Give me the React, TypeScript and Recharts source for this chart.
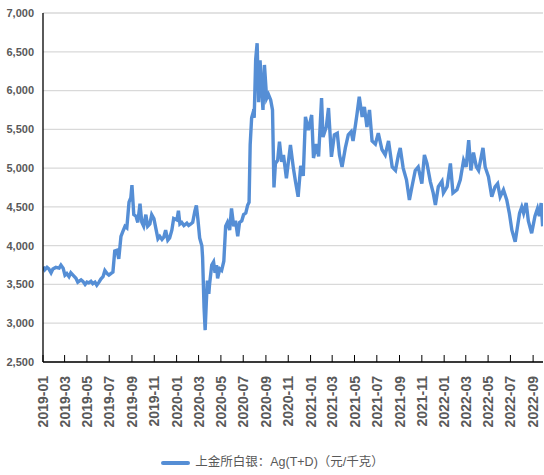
import React from 'react';
import { LineChart, Line, XAxis, YAxis, CartesianGrid, Legend } from 'recharts';

const dates = [
  '2019-01-02', '2019-01-06', '2019-01-12', '2019-01-17', '2019-01-23', '2019-01-28', '2019-02-05', '2019-02-14',
  '2019-02-19', '2019-02-25', '2019-03-02', '2019-03-07', '2019-03-13', '2019-03-18', '2019-03-24', '2019-04-01',
  '2019-04-06', '2019-04-15', '2019-04-20', '2019-04-26', '2019-05-01', '2019-05-06', '2019-05-12', '2019-05-17',
  '2019-05-23', '2019-05-28', '2019-06-03', '2019-06-08', '2019-06-14', '2019-06-19', '2019-06-25', '2019-06-30',
  '2019-07-05', '2019-07-11', '2019-07-16', '2019-07-22', '2019-07-27', '2019-08-02', '2019-08-07', '2019-08-13',
  '2019-08-18', '2019-08-24', '2019-08-29', '2019-09-01', '2019-09-06', '2019-09-12', '2019-09-17', '2019-09-23',
  '2019-09-28', '2019-10-03', '2019-10-09', '2019-10-14', '2019-10-20', '2019-10-25', '2019-10-31', '2019-11-05',
  '2019-11-11', '2019-11-16', '2019-11-22', '2019-11-27', '2019-12-02', '2019-12-08', '2019-12-13', '2019-12-19',
  '2019-12-24', '2020-01-02', '2020-01-06', '2020-01-10', '2020-01-15', '2020-01-21', '2020-01-29', '2020-02-03',
  '2020-02-09', '2020-02-14', '2020-02-20', '2020-02-24', '2020-02-28', '2020-03-04', '2020-03-10', '2020-03-12',
  '2020-03-16', '2020-03-19', '2020-03-22', '2020-03-25', '2020-03-29', '2020-03-31', '2020-04-06', '2020-04-11',
  '2020-04-15', '2020-04-19', '2020-04-22', '2020-04-28', '2020-05-03', '2020-05-09', '2020-05-14', '2020-05-19',
  '2020-05-25', '2020-05-30', '2020-06-05', '2020-06-10', '2020-06-16', '2020-06-21', '2020-06-27', '2020-07-02',
  '2020-07-08', '2020-07-13', '2020-07-17', '2020-07-20', '2020-07-24', '2020-07-27', '2020-07-31', '2020-08-04',
  '2020-08-08', '2020-08-12', '2020-08-16', '2020-08-20', '2020-08-24', '2020-08-28', '2020-09-03', '2020-09-08',
  '2020-09-14', '2020-09-19', '2020-09-23', '2020-09-27', '2020-10-03', '2020-10-08', '2020-10-14', '2020-10-19',
  '2020-10-27', '2020-11-07', '2020-11-15', '2020-11-21', '2020-11-28', '2020-12-05', '2020-12-12', '2020-12-18',
  '2020-12-26', '2021-01-04', '2021-01-09', '2021-01-17', '2021-01-23', '2021-01-31', '2021-02-04', '2021-02-13',
  '2021-02-19', '2021-02-27', '2021-03-07', '2021-03-15', '2021-03-21', '2021-03-28', '2021-04-06', '2021-04-14',
  '2021-04-22', '2021-04-27', '2021-05-04', '2021-05-08', '2021-05-14', '2021-05-22', '2021-05-28', '2021-06-04',
  '2021-06-11', '2021-06-18', '2021-06-27', '2021-07-05', '2021-07-15', '2021-07-24', '2021-08-02', '2021-08-12',
  '2021-08-21', '2021-08-29', '2021-09-03', '2021-09-11', '2021-09-20', '2021-09-28', '2021-10-05', '2021-10-14',
  '2021-10-22', '2021-11-01', '2021-11-08', '2021-11-15', '2021-11-24', '2021-12-02', '2021-12-08', '2021-12-16',
  '2021-12-26', '2021-12-30', '2022-01-09', '2022-01-18', '2022-01-25', '2022-02-05', '2022-02-14', '2022-02-23',
  '2022-03-02', '2022-03-09', '2022-03-15', '2022-03-22', '2022-03-30', '2022-04-05', '2022-04-17', '2022-04-23',
  '2022-05-02', '2022-05-11', '2022-05-20', '2022-05-27', '2022-06-03', '2022-06-12', '2022-06-21', '2022-06-28',
  '2022-07-05', '2022-07-14', '2022-07-26', '2022-08-01', '2022-08-06', '2022-08-13', '2022-08-19', '2022-08-28',
  '2022-09-06', '2022-09-13', '2022-09-18', '2022-09-23', '2022-09-27',
];

// 上金所白银 Ag(T+D)，元/千克
const prices = [
  3730, 3690, 3720, 3700, 3650, 3700, 3720, 3710,
  3750, 3710, 3620, 3640, 3600, 3650, 3620, 3580,
  3530, 3560, 3540, 3500, 3530, 3520, 3540, 3510,
  3530, 3490, 3530, 3570, 3600, 3680, 3640, 3620,
  3640, 3660, 3930, 3940, 3830, 4120, 4180, 4250,
  4230, 4560, 4620, 4780, 4400, 4380, 4300, 4540,
  4300, 4250, 4400, 4250, 4280, 4400, 4350, 4230,
  4090, 4120, 4080, 4110, 4200, 4070, 4100, 4200,
  4350, 4330, 4450, 4280, 4300, 4260, 4290, 4260,
  4280, 4300, 4450, 4520, 4350, 4100, 4000, 3850,
  3200, 2910, 3250, 3550, 3380, 3500, 3750, 3790,
  3650, 3750, 3580, 3700, 3680, 3800, 4250, 4300,
  4200, 4480, 4250, 4320, 4120, 4300, 4320, 4400,
  4420, 4520, 4560, 5300, 5650, 5700, 5650, 6400,
  6610, 5850, 6390, 6050, 5750, 6330, 5900, 5950,
  5880, 5750, 4750, 5060, 5100, 5340, 5080, 5170,
  4870, 5300, 5000, 4820, 4630, 5030, 4900, 5660,
  5490, 5685, 5130, 5310, 5150, 5904, 5400, 5530,
  5775, 5145, 5430, 5450, 5170, 5015, 5260, 5430,
  5470, 5350, 5570, 5700, 5920, 5660, 5790, 5530,
  5750, 5350, 5310, 5450, 5240, 5170, 5350, 5015,
  4970, 5170, 5260, 5000, 4850, 4590, 4760, 4970,
  5015, 4800, 5170, 5060, 4830, 4680, 4525, 4760,
  4830, 4680, 4760, 5060, 4680, 4720, 4850, 5100,
  5015, 5360, 4970, 5200, 5015, 4970, 5260, 5015,
  4890, 4630, 4760, 4800, 4630, 4720, 4590, 4420,
  4200, 4050, 4420, 4500, 4420, 4550, 4320, 4160,
  4380, 4480, 4380, 4550, 4250,
];

const monthTicks = [
  '2019-01', '2019-03', '2019-05', '2019-07', '2019-09', '2019-11',
  '2020-01', '2020-03', '2020-05', '2020-07', '2020-09', '2020-11',
  '2021-01', '2021-03', '2021-05', '2021-07', '2021-09', '2021-11',
  '2022-01', '2022-03', '2022-05', '2022-07', '2022-09',
];

const yTicks = [2500, 3000, 3500, 4000, 4500, 5000, 5500, 6000, 6500, 7000];

const data = dates.map((d, i) => ({ t: Date.parse(d), price: prices[i] }));
const tickTimes = monthTicks.map((m) => Date.parse(m + '-01'));
const xStart = Date.parse('2019-01-01');
const xEnd = Date.parse('2022-09-28');

const BLUE = '#558ED5';
const TEXT = '#595959';
const FONT = "'Liberation Sans', Arial, 'Noto Sans CJK SC', sans-serif";

const MonthTick = (props: any) => {
  const { x, y, payload } = props;
  const idx = tickTimes.indexOf(payload.value);
  const label = idx >= 0 ? monthTicks[idx] : '';
  const ty = y + 14;
  return (
    <g>
      <line x1={x} x2={x} y1={y} y2={y - 7} stroke="#000" strokeWidth={1} />
      <text
        x={x}
        y={ty}
        transform={`rotate(-90 ${x} ${ty})`}
        textAnchor="end"
        dy="0.36em"
        fill={TEXT}
        fontSize={14}
        fontWeight="bold"
        fontFamily={FONT}
      >
        {label}
      </text>
    </g>
  );
};

const renderLegend = () => (
  <div
    style={{
      display: 'flex',
      justifyContent: 'center',
      alignItems: 'center',
      paddingTop: 23,
      paddingRight: 6,
      fontFamily: FONT,
      fontSize: 12.5,
      lineHeight: '15px',
      color: TEXT,
    }}
  >
    <span style={{ display: 'inline-block', width: 29, height: 4, background: BLUE, borderRadius: 2, marginRight: 5 }} />
    <span>上金所白银：Ag(T+D)（元/千克）</span>
  </div>
);

export default function App() {
  return (
    <div style={{ width: 544, height: 475 }}>
      <style>{'body { margin: 0; }'}</style>
      <LineChart width={544} height={475} data={data} margin={{ top: 13, right: 1, left: 8, bottom: 4 }}>
        <CartesianGrid vertical={false} stroke="#D9D9D9" strokeWidth={1.3} />
        <XAxis
          dataKey="t"
          type="number"
          domain={[xStart, xEnd]}
          ticks={tickTimes}
          allowDataOverflow
          interval={0}
          height={70}
          tickSize={0}
          tickMargin={0}
          tickLine={false}
          axisLine={{ stroke: '#000', strokeWidth: 1.3 }}
          tick={<MonthTick />}
        />
        <YAxis
          domain={[2500, 7000]}
          ticks={yTicks}
          interval={0}
          width={35}
          tickLine={false}
          tickSize={0}
          tickMargin={9}
          axisLine={{ stroke: '#000', strokeWidth: 1.3 }}
          tick={{ fill: TEXT, fontSize: 11, fontWeight: 'bold', fontFamily: FONT }}
          tickFormatter={(v: number) => v.toLocaleString('en-US')}
        />
        <Legend verticalAlign="bottom" height={39} content={renderLegend} />
        <Line
          type="linear"
          dataKey="price"
          stroke={BLUE}
          strokeWidth={3.4}
          dot={false}
          isAnimationActive={false}
        />
      </LineChart>
    </div>
  );
}
